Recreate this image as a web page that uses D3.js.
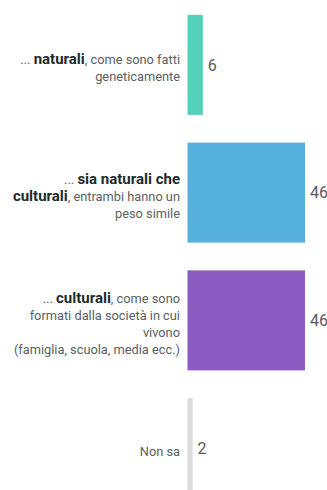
<!DOCTYPE html>
<html>
<head>
<meta charset="utf-8">
<script src="https://cdn.jsdelivr.net/npm/d3@7"></script>
<style>
  html, body { margin: 0; padding: 0; background: #fff; }
  svg { display: block; }
</style>
</head>
<body>
<div id="chart"></div>
<script>
// Answer categories and percentages
const categories = ["naturali", "sia naturali che culturali", "culturali", "Non sa"];
const values = [6, 46, 46, 2];
const colors = ["#55d0b9", "#56b1df", "#8b5bc2", "#dcdcdc"];

// Label lines per category: each segment is [text, isBold]
const labelLines = [
  [
    [["... ", false], ["naturali", true], [", come sono fatti", false]],
    [["geneticamente", false]]
  ],
  [
    [["... ", false], ["sia naturali che", true]],
    [["culturali", true], [", entrambi hanno un", false]],
    [["peso simile", false]]
  ],
  [
    [["... ", false], ["culturali", true], [", come sono", false]],
    [["formati dalla società in cui", false]],
    [["vivono", false]],
    [["(famiglia, scuola, media ecc.)", false]]
  ],
  [
    [["Non sa", false]]
  ]
];

const width = 327, height = 490;
const barX0 = 187.5;
const labelRight = 180;

const svg = d3.select("#chart").append("svg")
  .attr("width", width)
  .attr("height", height);

const y = d3.scaleBand()
  .domain(categories)
  .range([1, 512])
  .paddingInner(0.217)
  .paddingOuter(0.1085);

const x = d3.scaleLinear()
  .domain([0, 46])
  .range([barX0, 305]);

const rows = svg.selectAll("g.row")
  .data(categories)
  .join("g")
  .attr("class", "row");

rows.append("rect")
  .attr("x", x(0))
  .attr("y", d => y(d))
  .attr("width", (d, i) => x(values[i]) - x(0))
  .attr("height", y.bandwidth())
  .attr("fill", (d, i) => colors[i]);

rows.append("text")
  .attr("x", (d, i) => x(values[i]) + 5)
  .attr("y", d => y(d) + y.bandwidth() / 2)
  .attr("dy", "0.36em")
  .attr("font-family", "Roboto, sans-serif")
  .attr("font-size", 16)
  .attr("fill", "#5a5a5a")
  .text((d, i) => values[i]);

const lineH = 17;
rows.each(function (d, i) {
  const lines = labelLines[i];
  const cy = y(d) + y.bandwidth() / 2 + 2.5;
  const top = cy - (lines.length - 1) * lineH / 2;
  const g = d3.select(this);
  lines.forEach((segs, j) => {
    const t = g.append("text")
      .attr("x", labelRight)
      .attr("y", top + j * lineH)
      .attr("dy", "0.35em")
      .attr("text-anchor", "end")
      .attr("font-family", "Roboto, sans-serif");
    segs.forEach(([txt, bold]) => {
      t.append("tspan")
        .attr("font-size", bold ? 15 : 12.8)
        .attr("font-weight", bold ? 700 : 400)
        .attr("fill", bold ? "#1d2b2a" : "#5a5f5f")
        .text(txt);
    });
  });
});
</script>
</body>
</html>
